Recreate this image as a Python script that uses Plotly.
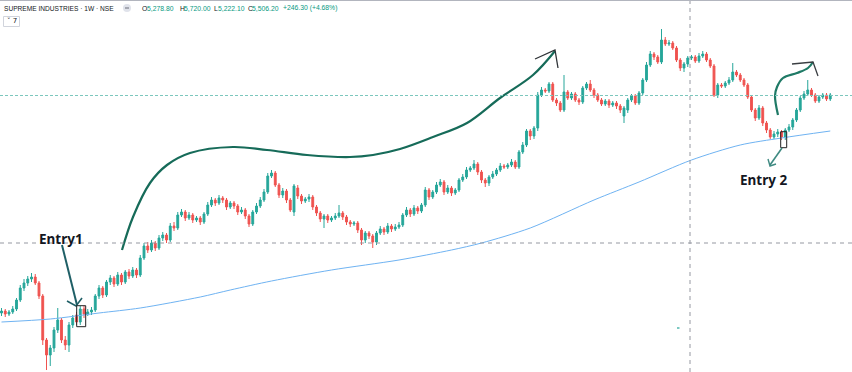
import plotly.graph_objects as go

W, H = 852, 372

# ---------------- data (weekly OHLC, arbitrary price units) ----------------
bar_open = [
    3370, 3390, 3360, 3380, 3410, 3500, 3620, 3670, 3710, 3730,
    3670, 3540, 3100, 2950, 3020, 3200, 3300, 3100, 3050, 3250,
    3350, 3280, 3410, 3360, 3380, 3400, 3540, 3620, 3550, 3680,
    3720, 3660, 3750, 3680, 3780, 3740, 3800, 3750, 3920, 4040,
    4000, 4070, 4020, 4120, 4150, 4100, 4240, 4220, 4350, 4380,
    4320, 4350, 4300, 4320, 4280, 4360, 4450, 4500, 4470, 4520,
    4500, 4430, 4470, 4440, 4380, 4400, 4340, 4260, 4380, 4440,
    4500, 4580, 4740, 4770, 4650, 4550, 4590, 4500, 4380, 4620,
    4540, 4490, 4510, 4530, 4430, 4370, 4310, 4340, 4300, 4320,
    4340, 4370, 4330, 4280, 4260, 4270, 4200, 4100, 4170, 4140,
    4080, 4170, 4210, 4180, 4240, 4210, 4230, 4250, 4350, 4400,
    4360, 4420, 4390, 4450, 4600, 4530, 4580, 4650, 4680, 4580,
    4620, 4570, 4600, 4700, 4730, 4800, 4820, 4860, 4780, 4700,
    4670, 4730, 4760, 4800, 4840, 4830, 4850, 4880, 4830, 4980,
    5050, 5190, 5140, 5220, 5550, 5600, 5590, 5660, 5500, 5470,
    5400, 5580, 5520, 5560, 5500, 5480, 5620, 5660, 5600, 5550,
    5500, 5460, 5490, 5450, 5470, 5440, 5340, 5400, 5500, 5540,
    5470, 5570, 5700, 5850, 5960, 5930, 5880, 6100, 6060, 6070,
    6020, 5900, 5820, 5860, 5920, 5930, 5890, 5940, 5960, 5900,
    5840, 5550, 5650, 5640, 5670, 5700, 5780, 5750, 5700, 5650,
    5530, 5400, 5320, 5420, 5270, 5200, 5130, 5160, 5180, 5130,
    5200, 5230, 5300, 5400, 5520, 5560, 5600, 5550, 5490, 5530,
    5550, 5510,
]
bar_high = [
    3420, 3410, 3400, 3440, 3520, 3650, 3710, 3740, 3770, 3760,
    3690, 3560, 3120, 3050, 3230, 3420, 3320, 3140, 3280, 3350,
    3380, 3440, 3440, 3410, 3430, 3560, 3650, 3640, 3700, 3750,
    3740, 3780, 3770, 3800, 3810, 3830, 3820, 3950, 4070, 4080,
    4100, 4090, 4150, 4180, 4170, 4270, 4280, 4380, 4410, 4400,
    4380, 4370, 4340, 4340, 4380, 4480, 4530, 4520, 4550, 4540,
    4520, 4490, 4490, 4460, 4430, 4420, 4360, 4400, 4470, 4530,
    4610, 4770, 4800, 4790, 4670, 4620, 4610, 4520, 4660, 4650,
    4560, 4530, 4560, 4550, 4450, 4390, 4360, 4360, 4340, 4370,
    4450, 4390, 4350, 4300, 4290, 4290, 4220, 4190, 4190, 4160,
    4190, 4240, 4230, 4270, 4260, 4260, 4280, 4370, 4430, 4420,
    4450, 4440, 4470, 4630, 4620, 4600, 4680, 4710, 4700, 4650,
    4640, 4620, 4720, 4760, 4830, 4840, 4900, 4880, 4800, 4720,
    4750, 4790, 4820, 4870, 4860, 4870, 4910, 4900, 5000, 5080,
    5210, 5210, 5240, 5580, 5630, 5620, 5680, 5680, 5520, 5490,
    5750, 5600, 5580, 5580, 5520, 5640, 5680, 5700, 5620, 5570,
    5520, 5510, 5510, 5490, 5490, 5460, 5440, 5520, 5560, 5560,
    5590, 5720, 5880, 5990, 5980, 5950, 6210, 6130, 6100, 6090,
    6040, 5920, 5880, 5940, 5950, 5950, 5970, 5990, 5980, 5920,
    5860, 5670, 5670, 5690, 5730, 5870, 5800, 5770, 5720, 5670,
    5550, 5420, 5450, 5440, 5290, 5220, 5190, 5210, 5200, 5220,
    5260, 5320, 5420, 5540, 5590, 5700, 5620, 5570, 5550, 5570,
    5570, 5570,
]
bar_low = [
    3340, 3330, 3340, 3360, 3390, 3480, 3590, 3640, 3680, 3650,
    3510, 3050, 2800, 2840, 2980, 3170, 3070, 3000, 2980, 3220,
    3250, 3250, 3320, 3340, 3350, 3380, 3510, 3520, 3530, 3650,
    3630, 3640, 3650, 3660, 3710, 3720, 3720, 3730, 3900, 3970,
    3980, 3990, 4000, 4090, 4070, 4080, 4190, 4200, 4330, 4290,
    4300, 4270, 4280, 4250, 4260, 4340, 4430, 4440, 4450, 4470,
    4400, 4410, 4410, 4350, 4360, 4310, 4230, 4240, 4360, 4420,
    4480, 4560, 4720, 4630, 4520, 4520, 4470, 4380, 4340, 4510,
    4460, 4470, 4480, 4400, 4340, 4280, 4220, 4270, 4280, 4300,
    4320, 4300, 4250, 4230, 4240, 4170, 4050, 4070, 4110, 4020,
    4050, 4150, 4150, 4160, 4180, 4190, 4210, 4230, 4330, 4330,
    4340, 4360, 4370, 4430, 4500, 4510, 4560, 4630, 4550, 4560,
    4540, 4550, 4580, 4680, 4710, 4780, 4800, 4750, 4670, 4630,
    4640, 4710, 4740, 4780, 4810, 4810, 4830, 4810, 4810, 4960,
    5030, 5100, 5110, 5190, 5530, 5570, 5570, 5480, 5440, 5380,
    5380, 5500, 5500, 5480, 5450, 5460, 5600, 5580, 5520, 5480,
    5440, 5440, 5420, 5430, 5410, 5370, 5270, 5370, 5480, 5450,
    5450, 5550, 5680, 5830, 5900, 5860, 5860, 6040, 6040, 6000,
    5880, 5790, 5780, 5830, 5900, 5870, 5870, 5920, 5880, 5820,
    5530, 5520, 5620, 5620, 5650, 5680, 5730, 5680, 5630, 5510,
    5380, 5290, 5300, 5240, 5170, 5110, 5110, 5130, 5100, 5100,
    5180, 5200, 5280, 5380, 5500, 5540, 5530, 5470, 5470, 5510,
    5490, 5490,
]
bar_close = [
    3390, 3360, 3380, 3410, 3500, 3620, 3670, 3710, 3730, 3670,
    3540, 3100, 2950, 3020, 3200, 3300, 3100, 3050, 3250, 3320,
    3280, 3410, 3360, 3380, 3400, 3540, 3620, 3550, 3680, 3720,
    3660, 3750, 3680, 3780, 3740, 3800, 3750, 3920, 4040, 4000,
    4070, 4020, 4120, 4150, 4100, 4240, 4220, 4350, 4380, 4320,
    4350, 4300, 4320, 4280, 4360, 4450, 4500, 4470, 4520, 4500,
    4430, 4470, 4440, 4380, 4400, 4340, 4260, 4380, 4440, 4500,
    4580, 4740, 4770, 4650, 4550, 4590, 4500, 4400, 4640, 4540,
    4490, 4510, 4530, 4430, 4370, 4310, 4340, 4300, 4320, 4340,
    4370, 4330, 4280, 4260, 4270, 4200, 4100, 4170, 4140, 4080,
    4170, 4210, 4180, 4240, 4210, 4230, 4250, 4350, 4400, 4360,
    4420, 4390, 4450, 4600, 4530, 4580, 4650, 4680, 4580, 4620,
    4570, 4600, 4700, 4730, 4800, 4820, 4860, 4780, 4700, 4670,
    4730, 4760, 4800, 4840, 4830, 4850, 4880, 4830, 4980, 5050,
    5190, 5140, 5220, 5550, 5600, 5590, 5660, 5500, 5470, 5400,
    5580, 5520, 5560, 5500, 5480, 5620, 5660, 5600, 5550, 5500,
    5460, 5490, 5450, 5470, 5440, 5400, 5420, 5500, 5540, 5470,
    5570, 5700, 5850, 5960, 5930, 5880, 6100, 6060, 6070, 6020,
    5900, 5820, 5860, 5920, 5930, 5890, 5940, 5960, 5900, 5840,
    5550, 5650, 5640, 5670, 5700, 5780, 5750, 5700, 5650, 5530,
    5400, 5320, 5420, 5270, 5200, 5130, 5160, 5180, 5130, 5200,
    5230, 5300, 5400, 5520, 5560, 5600, 5550, 5490, 5530, 5550,
    5510, 5550,
]
bar_index = list(range(len(bar_close)))

# long moving average, sampled at a few bars
ma_bar = [0, 13, 26, 37, 53, 61, 72, 88, 106, 120, 128, 141, 158, 170, 184, 197, 208, 221]
ma_value = [3280, 3310, 3370, 3420, 3530, 3600, 3690, 3800, 3900, 4000, 4070, 4220, 4500,
            4680, 4900, 5050, 5120, 5190]

title_text = "SUPREME INDUSTRIES · 1W · NSE"
ohlc_labels = ["O", "H", "L", "C"]
ohlc_values = ["5,278.80", "5,720.00", "5,222.10", "5,506.20"]
change_text = "+246.30 (+4.68%)"
interval_badge = "˅ 7"
entry_labels = ["Entry1", "Entry 2"]

UP = "#26a69a"
DOWN = "#ef5350"
INK = "#131722"
VAL = "#089981"

# ---------------- figure ----------------
fig = go.Figure()

fig.add_trace(go.Scatter(
    x=ma_bar, y=ma_value, mode="lines", line=dict(color="#6fb3f2", width=1, shape="spline", smoothing=0.8),
    hoverinfo="skip", showlegend=False))

fig.add_trace(go.Candlestick(
    x=bar_index, open=bar_open, high=bar_high, low=bar_low, close=bar_close,
    increasing=dict(line=dict(color=UP, width=1), fillcolor=UP),
    decreasing=dict(line=dict(color=DOWN, width=1), fillcolor=DOWN),
    whiskerwidth=0, showlegend=False, hoverinfo="skip"))

# ---- hand-drawn annotations, expressed on a canvas overlay (pixels) ----
def draw(xs, ys, color, width, spline=False):
    fig.add_trace(go.Scatter(
        x=xs, y=ys, xaxis="x2", yaxis="y2", mode="lines",
        line=dict(color=color, width=width, shape="spline" if spline else "linear", smoothing=1.0),
        hoverinfo="skip", showlegend=False))

# main swing curve
draw([122, 133, 150, 167, 190, 233, 267, 307, 350, 373, 400, 433, 467, 500, 533, 555],
     [250, 217, 183, 165, 153, 147, 150, 155, 157, 155, 149, 137, 123, 98, 75, 51],
     "#166b59", 2.2, spline=True)
draw([535, 555, 558], [59, 50, 68], "#2f3337", 1.3)

# Entry 1 arrow
draw([62, 77], [245, 305], "#1f5f66", 2.0)
draw([67, 76, 82], [301, 306, 298], "#1f5f66", 1.6)
# Entry 1 box
draw([76.7, 85.7, 85.7, 76.7, 76.7], [305.7, 305.7, 326.7, 326.7, 305.7], "#222222", 1.0)

# Entry 2 box and arrow
draw([780.7, 786.7, 786.7, 780.7, 780.7], [131.7, 131.7, 147.7, 147.7, 131.7], "#222222", 1.0)
draw([782, 770], [148, 165], "#3f8a82", 1.6)
draw([768, 770, 776], [159, 166, 164], "#3f8a82", 1.4)

# small curve after entry 2
draw([778, 775, 777, 783, 797, 808, 813], [115, 96, 87, 78, 73, 68, 62], "#1f7a66", 2.2, spline=True)
draw([792, 813, 818], [64, 62, 76], "#3a3e42", 1.3)

# tiny stray mark
draw([677, 679.5], [328, 328], UP, 1.2)

layout_shapes = [
    # crosshair lines
    dict(type="line", xref="paper", yref="paper", x0=0, x1=1, y0=1 - 243 / H, y1=1 - 243 / H,
         line=dict(color="#9598a1", width=1, dash="4px,4px")),
    dict(type="line", xref="paper", yref="paper", x0=690 / W, x1=690 / W, y0=0, y1=1,
         line=dict(color="#9598a1", width=1, dash="4px,4px")),
    # last-price dotted line
    dict(type="line", xref="paper", yref="paper", x0=0, x1=1, y0=1 - 95.5 / H, y1=1 - 95.5 / H,
         line=dict(color="#7cc7bd", width=1, dash="3px,2px")),
    # top border
    dict(type="line", xref="paper", yref="paper", x0=0, x1=1, y0=1 - 0.5 / H, y1=1 - 0.5 / H,
         line=dict(color="#b2b5be", width=1)),
    # status circle icon
    dict(type="circle", xref="paper", yref="paper", x0=123 / W, x1=131 / W, y0=1 - 12 / H, y1=1 - 4 / H,
         fillcolor="#e0e3eb", line=dict(width=0)),
    dict(type="line", xref="paper", yref="paper", x0=125 / W, x1=129 / W, y0=1 - 8 / H, y1=1 - 8 / H,
         line=dict(color="#6a6d78", width=1)),
    # interval badge
    dict(type="rect", xref="paper", yref="paper", x0=3.5 / W, x1=19.5 / W, y0=1 - 26.5 / H, y1=1 - 16.5 / H,
         fillcolor="white", line=dict(color="#d1d4dc", width=1)),
]

def P(x, y):
    return x / W, 1 - y / H

HDR_FONT = "Liberation Sans, Arial"
annotations = []

def label(x, y, text, size, color, anchor="left", family=HDR_FONT):
    px, py = P(x, y)
    annotations.append(dict(xref="paper", yref="paper", x=px, y=py, xanchor=anchor, yanchor="middle",
                            text=text, showarrow=False, borderpad=0,
                            font=dict(family=family, size=size, color=color)))

label(3, 8.5, title_text, 6.6, INK)
# OHLC readout: label letter then value, laid out left to right
ohlc_x = [141, 178.5, 213.5, 246.5]
ohlc_w = [5.3, 4.9, 3.8, 4.9]
for k, v, x0, w in zip(ohlc_labels, ohlc_values, ohlc_x, ohlc_w):
    label(x0, 8.5, k, 6.8, INK)
    label(x0 + w, 8.5, v, 6.8, VAL)
label(281.5, 8.5, change_text, 6.8, VAL)
label(11.5, 21.5, interval_badge, 7, INK, anchor="center", family="DejaVu Sans")
label(61, 238.5, f"<b>{entry_labels[0]}</b>", 13.5, INK, anchor="center", family="Noto Sans")
label(763, 179.5, f"<b>{entry_labels[1]}</b>", 13.5, INK, anchor="center", family="Noto Sans")

fig.update_layout(
    width=W, height=H,
    margin=dict(l=0, r=0, t=0, b=0),
    paper_bgcolor="white", plot_bgcolor="white",
    showlegend=False,
    xaxis=dict(range=[-0.4, 226.8], visible=False, rangeslider=dict(visible=False), fixedrange=True),
    yaxis=dict(range=[2780, 6500], visible=False, fixedrange=True),
    xaxis2=dict(range=[0, W], overlaying="x", visible=False, fixedrange=True),
    yaxis2=dict(range=[H, 0], overlaying="y", visible=False, fixedrange=True),
    shapes=layout_shapes,
    annotations=annotations,
)

fig.write_html("out.html", config=dict(displayModeBar=False),
               post_script="document.body.style.margin='0';document.body.style.padding='0';document.body.style.overflow='hidden';")
